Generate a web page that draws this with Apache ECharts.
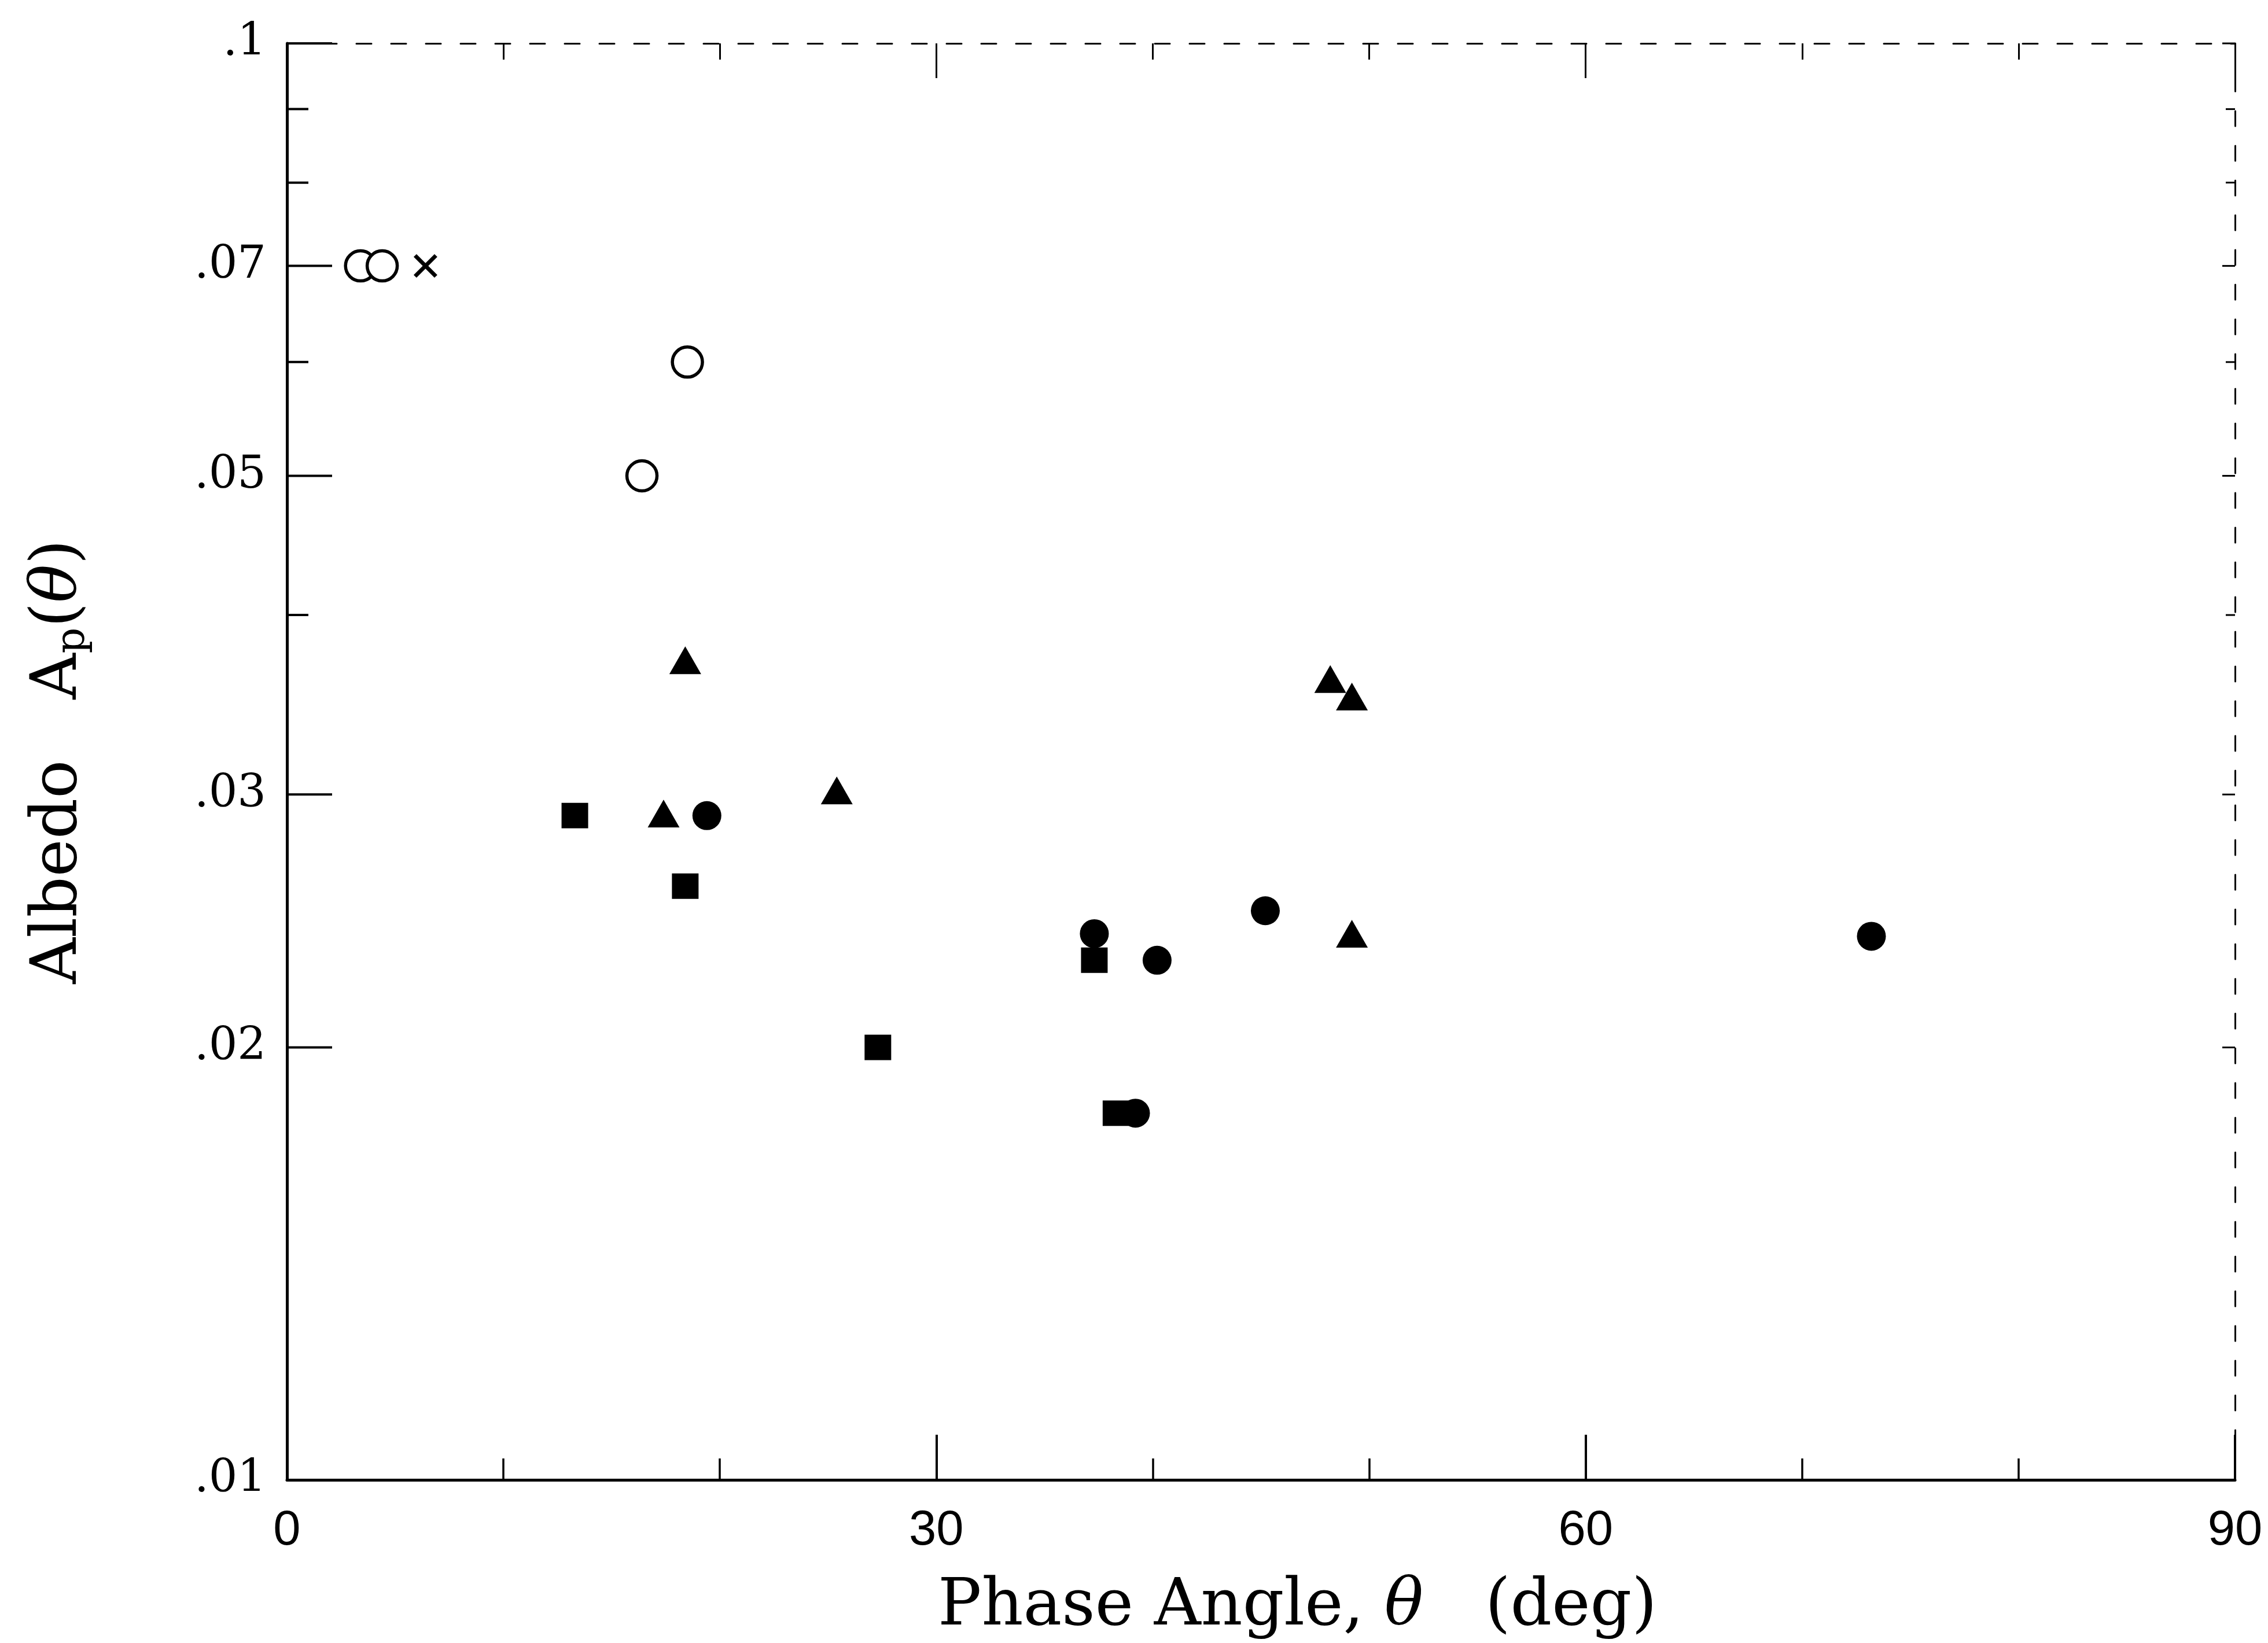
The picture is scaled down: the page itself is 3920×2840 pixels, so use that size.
<!DOCTYPE html>
<html>
<head>
<meta charset="utf-8">
<script src="https://cdn.jsdelivr.net/npm/echarts@6/dist/echarts.min.js"></script>
<style>
  html, body { margin: 0; padding: 0; background: #fff; }
  #chart { width: 3920px; height: 2840px; }
</style>
</head>
<body>
<div id="chart"></div>
<script>
// ---- data ----
const openCircleX = [3.4, 4.4, 16.4, 18.5];
const openCircleY = [0.070, 0.070, 0.050, 0.060];

const crossX = [6.4];
const crossY = [0.070];

const triangleX = [17.4, 18.4, 25.4, 48.2, 49.2, 49.2];
const triangleY = [0.0291, 0.0372, 0.0302, 0.0361, 0.0351, 0.0240];

const squareX = [13.3, 18.4, 27.3, 37.3, 38.3];
const squareY = [0.0290, 0.0259, 0.0200, 0.0230, 0.0180];

const circleX = [19.4, 37.3, 39.2, 40.2, 45.2, 73.2];
const circleY = [0.0290, 0.0240, 0.0180, 0.0230, 0.0249, 0.0239];

// tick values / labels
const xMin = 0, xMax = 90, xInterval = 30;
const yMajorTicks = [0.1, 0.07, 0.05, 0.03, 0.02, 0.01];
const yMajorLabels = ['.1', '.07', '.05', '.03', '.02', '.01'];
const yMinorTicks = [0.09, 0.08, 0.06, 0.04];

const xTitle = 'Phase Angle, {t|θ}   (deg)';
const yTitle = 'Albedo   A{p|p}({t|θ})';

// ---- chart ----
const SERIF = '"DejaVu Serif", "Liberation Serif", serif';
const SANS = '"Liberation Sans", Arial, sans-serif';
const pairs = (xs, ys) => xs.map((x, i) => [x, ys[i]]);

const chart = echarts.init(document.getElementById('chart'), null, { renderer: 'canvas' });

function yTickSeries(values, labels, lenLeft, lenRight) {
  return {
    type: 'custom',
    coordinateSystem: 'cartesian2d',
    xAxisIndex: 0, yAxisIndex: 0,
    clip: false, silent: true, z: 5,
    data: values.map((v, i) => [xMin, v, i]),
    encode: { x: 0, y: 1 },
    renderItem: function (params, api) {
      const v = api.value(1);
      const i = api.value(2);
      const p = api.coord([xMin, v]);
      const pr = api.coord([xMax, v]);
      const children = [
        { type: 'line', shape: { x1: p[0], y1: p[1], x2: p[0] + lenLeft, y2: p[1] },
          style: { stroke: '#000', lineWidth: 4 } },
        { type: 'line', shape: { x1: pr[0] - lenRight, y1: pr[1], x2: pr[0], y2: pr[1] },
          style: { stroke: '#000', lineWidth: 3 } }
      ];
      if (labels) {
        children.push({
          type: 'text', x: p[0] - 36, y: p[1],
          style: { text: labels[i], fill: '#000', fontSize: 78, fontFamily: SERIF,
                   align: 'right', verticalAlign: 'middle' }
        });
      }
      return { type: 'group', children: children };
    }
  };
}

const option = {
  backgroundColor: '#fff',
  animation: false,
  grid: { left: 496, right: 57, top: 75, bottom: 280, containLabel: false, show: false },
  xAxis: [
    {
      type: 'value', min: xMin, max: xMax, interval: xInterval, position: 'bottom',
      axisLine: { show: true, onZero: false, lineStyle: { color: '#000', width: 5 } },
      axisTick: { show: true, inside: true, length: 78, lineStyle: { color: '#000', width: 4 } },
      minorTick: { show: true, splitNumber: 3, length: 37, lineStyle: { color: '#000', width: 3.5 } },
      splitLine: { show: false }, minorSplitLine: { show: false },
      axisLabel: { show: true, margin: 46, color: '#000', fontSize: 85, fontFamily: SANS,
                   showMinLabel: true, showMaxLabel: true },
      name: xTitle, nameLocation: 'middle', nameGap: 165,
      nameTextStyle: { color: '#000', fontSize: 112, fontFamily: SERIF, padding: [0, 0, 0, 126],
                       rich: { t: { fontSize: 112, fontFamily: SERIF, fontStyle: 'italic', color: '#000' } } }
    },
    {
      type: 'value', min: xMin, max: xMax, interval: xInterval, position: 'top',
      axisLine: { show: true, onZero: false, lineStyle: { color: '#000', width: 3, type: [26, 34] } },
      axisTick: { show: true, inside: true, length: 60, lineStyle: { color: '#000', width: 3 } },
      minorTick: { show: true, splitNumber: 3, length: 28, lineStyle: { color: '#000', width: 3 } },
      splitLine: { show: false }, axisLabel: { show: false }
    }
  ],
  yAxis: [
    {
      type: 'log', logBase: 10, min: 0.01, max: 0.1, position: 'left',
      axisLine: { show: true, onZero: false, lineStyle: { color: '#000', width: 5 } },
      axisTick: { show: false }, minorTick: { show: false },
      splitLine: { show: false }, minorSplitLine: { show: false },
      axisLabel: { show: false },
      name: yTitle, nameLocation: 'middle', nameGap: 334, nameRotate: 90,
      nameTextStyle: { color: '#000', fontSize: 110, fontFamily: SERIF, lineHeight: 120,
                       rich: {
                         p: { fontSize: 70, fontFamily: SERIF, color: '#000', lineHeight: 70, verticalAlign: 'bottom' },
                         t: { fontSize: 110, fontFamily: SERIF, fontStyle: 'italic', color: '#000', lineHeight: 120 }
                       } }
    },
    {
      type: 'log', logBase: 10, min: 0.01, max: 0.1, position: 'right',
      axisLine: { show: true, onZero: false, lineStyle: { color: '#000', width: 3, type: [26, 34] } },
      axisTick: { show: false }, splitLine: { show: false }, axisLabel: { show: false }
    }
  ],
  series: [
    yTickSeries(yMajorTicks, yMajorLabels, 78, 22),
    yTickSeries(yMinorTicks, null, 37, 16),
    {
      name: 'Open circles', type: 'scatter', data: pairs(openCircleX, openCircleY),
      symbol: 'circle', symbolSize: 52,
      itemStyle: { color: '#fff', borderColor: '#000', borderWidth: 5.5, opacity: 1 }, z: 3
    },
    {
      name: 'Cross', type: 'scatter', data: pairs(crossX, crossY),
      symbol: 'path://M0,0L10,10M10,0L0,10', symbolSize: 36,
      itemStyle: { color: 'none', borderColor: '#000', borderWidth: 7, opacity: 1 }, z: 3
    },
    {
      name: 'Triangles', type: 'scatter', data: pairs(triangleX, triangleY),
      symbol: 'triangle', symbolSize: [55, 48],
      itemStyle: { color: '#000', opacity: 1 }, z: 3
    },
    {
      name: 'Squares', type: 'scatter', data: pairs(squareX, squareY),
      symbol: 'rect', symbolSize: [46, 44],
      itemStyle: { color: '#000', opacity: 1 }, z: 3
    },
    {
      name: 'Filled circles', type: 'scatter', data: pairs(circleX, circleY),
      symbol: 'circle', symbolSize: 50,
      itemStyle: { color: '#000', opacity: 1 }, z: 3
    }
  ]
};

chart.setOption(option);
</script>
</body>
</html>
